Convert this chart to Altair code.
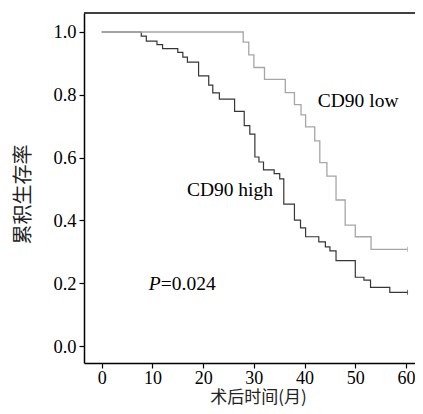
import altair as alt
import pandas as pd

# CD90 high (dark) Kaplan-Meier steps: time (months), survival
high_t = [0, 7.8, 8.8, 10.9, 12.0, 15.0, 16.0, 16.9, 19.1, 21.1, 21.9, 23.2, 26.2, 28.1, 29.2,
          30.2, 31.0, 31.9, 34.0, 35.1, 35.9, 38.0, 39.2, 40.2, 42.8, 44.1, 45.0, 46.2, 50.0,
          51.7, 53.0, 56.8, 60.3]
high_s = [1.0, 0.987, 0.971, 0.960, 0.947, 0.935, 0.920, 0.904, 0.860, 0.831, 0.806, 0.786, 0.747, 0.702, 0.675,
          0.602, 0.586, 0.561, 0.549, 0.532, 0.452, 0.401, 0.376, 0.348, 0.332, 0.316, 0.303, 0.272, 0.219,
          0.210, 0.187, 0.171, 0.171]
# CD90 low (light) Kaplan-Meier steps
low_t = [0, 27.9, 29.0, 30.0, 32.1, 36.2, 38.0, 39.3, 40.2, 42.0, 43.0, 44.4, 46.2, 48.0, 50.0, 53.1, 60.3]
low_s = [1.0, 0.968, 0.927, 0.887, 0.849, 0.807, 0.769, 0.736, 0.698, 0.653, 0.584, 0.541, 0.465, 0.385,
         0.348, 0.308, 0.308]

# labels
label_text = ["CD90 low", "CD90 high"]
label_t = [42.6, 16.8]
label_s = [0.78, 0.497]
p_t = [9.3]
p_s = [0.197]
p_italic = ["P"]
p_value = ["=0.024"]

x_ticks = [0, 10, 20, 30, 40, 50, 60]
y_ticks = [0.0, 0.2, 0.4, 0.6, 0.8, 1.0]

SERIF = "Liberation Serif"
CJK = "Noto Sans CJK SC"

high_df = pd.DataFrame({"t": high_t, "s": high_s})
low_df = pd.DataFrame({"t": low_t, "s": low_s})
cens_df = pd.DataFrame({"t": [high_t[-1], low_t[-1]], "s": [high_s[-1], low_s[-1]], "g": ["high", "low"]})
lab_df = pd.DataFrame({"t": label_t, "s": label_s, "txt": label_text})
p_df = pd.DataFrame({"t": p_t, "s": p_s, "p": p_italic, "v": p_value})

xs = alt.Scale(domain=[-3.49, 61.77], nice=False, zero=False)
ys = alt.Scale(domain=[-0.054, 1.0605], nice=False, zero=False)

x_enc = alt.X("t:Q", scale=xs, axis=alt.Axis(
    values=x_ticks, title="术后时间(月)", grid=False, domainColor="black", domainWidth=1.5,
    tickColor="black", tickSize=5, tickWidth=1.2, labelFont=SERIF, labelFontSize=18, labelColor="black",
    labelPadding=1, labelOverlap=False, titleFont=CJK, titleFontSize=17, titleFontWeight="normal", titleColor="#222",
    titleX=174, titleY=34, titleBaseline="middle", titleAlign="center"))
y_enc = alt.Y("s:Q", scale=ys, axis=alt.Axis(
    values=y_ticks, format=".1f", title="累积生存率", grid=False, domainColor="black", domainWidth=1.5,
    tickColor="black", tickSize=5, tickWidth=1.2, labelFont=SERIF, labelFontSize=18.5, labelColor="black",
    labelPadding=3, titleFont=CJK, titleFontSize=20, titleFontWeight="normal", titleColor="#222",
    titleAngle=-90, titleX=-61, titleY=181, titleBaseline="middle", titleAlign="center"))

high_line = alt.Chart(high_df).mark_line(interpolate="step-after", color="#363636", strokeWidth=1.2).encode(
    x=x_enc, y=y_enc)
low_line = alt.Chart(low_df).mark_line(interpolate="step-after", color="#a6a6a6", strokeWidth=1.3).encode(
    x="t:Q", y="s:Q")
cens = alt.Chart(cens_df).mark_point(shape="M0,-1L0,1", size=25, strokeWidth=1).encode(
    x="t:Q", y="s:Q",
    color=alt.Color("g:N", scale=alt.Scale(domain=["high", "low"], range=["#363636", "#a6a6a6"]), legend=None))
labels = alt.Chart(lab_df).mark_text(font=SERIF, fontSize=19.5, align="left", baseline="middle", color="black").encode(
    x="t:Q", y="s:Q", text="txt:N")
p_mark = alt.Chart(p_df).mark_text(font=SERIF, fontSize=19.5, fontStyle="italic", align="left",
                                    baseline="middle", color="black").encode(x="t:Q", y="s:Q", text="p:N")
p_val = alt.Chart(p_df).mark_text(font=SERIF, fontSize=19.5, align="left", baseline="middle", color="black",
                                   dx=12).encode(x="t:Q", y="s:Q", text="v:N")
top_border = alt.Chart(p_df).mark_rule(color="black", strokeWidth=1.5).encode(
    x=alt.value(0), x2=alt.value(345), y=alt.value(0))

chart = alt.layer(high_line, low_line, cens, labels, p_mark, p_val, top_border).properties(
    width=331, height=350,
    autosize=alt.AutoSizeParams(type="none"),
    padding={"left": 76, "top": 5, "right": 0, "bottom": 43},
).configure_view(stroke=None)

chart.save("out.html", embed_options={"renderer": "svg", "actions": False})
